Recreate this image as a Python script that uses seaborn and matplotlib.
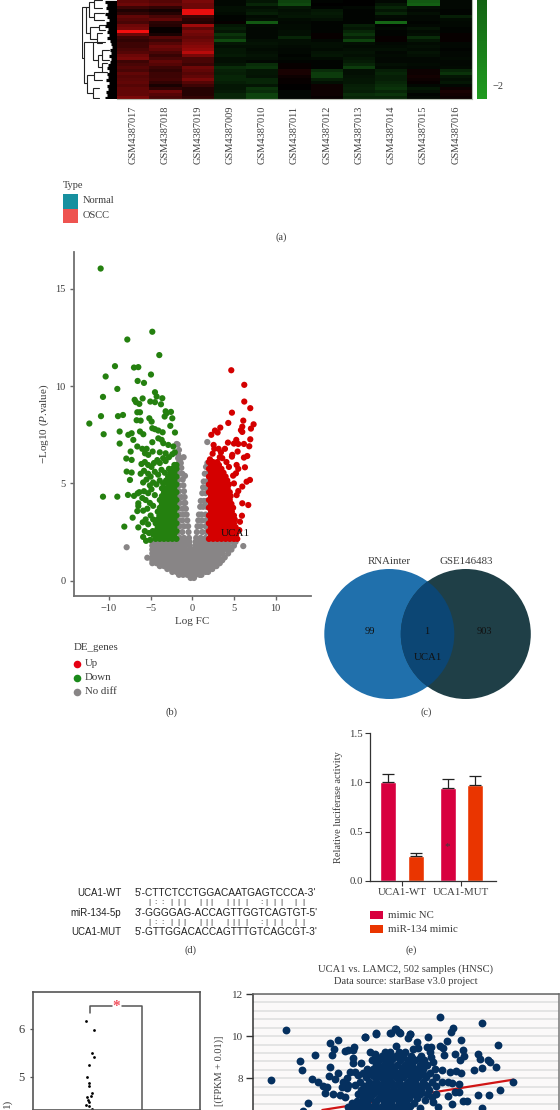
import matplotlib
matplotlib.use("Agg")
import matplotlib.pyplot as plt
from matplotlib.colors import LinearSegmentedColormap
from matplotlib.patches import Circle, Rectangle
from matplotlib.ticker import MultipleLocator
import numpy as np
import pandas as pd
import seaborn as sns

# ---------- (a) heatmap ----------
samples = ["GSM4387017", "GSM4387018", "GSM4387019", "GSM4387009", "GSM4387010", "GSM4387011",
           "GSM4387012", "GSM4387013", "GSM4387014", "GSM4387015", "GSM4387016"]
heat_values = [
    [.8, .7, 1.0, -.1, -.3, -.9, -.05, 0, -.1, -1.2, -.1],
    [.9, .8, .9, -.1, -.5, -1, 0, 0, -.3, -1.3, -.1],
    [.5, .4, .9, -.2, -.2, -.3, -.05, -.1, -.5, -.2, -.1],
    [.25, .15, 1.9, -.2, -.3, -.2, -.3, -.05, -.3, -.1, -.05],
    [.4, .3, 1.9, -.15, -.4, -.25, -.35, -.05, -.5, -.2, -.05],
    [.8, .6, .5, -.05, -.15, -.3, -.3, -.05, -.15, -.1, -.4],
    [.7, .8, .35, -.05, -.2, -.15, -.2, -.05, -.1, -.1, -.15],
    [.6, .35, .3, .05, -1.2, -.1, -.05, -.05, -1.4, -.05, -.1],
    [.9, .3, 1.3, -.3, -.15, -.15, -.05, -.4, -.05, -.1, -.1],
    [1.0, .05, .8, -.4, -.1, -.15, -.05, -.3, -.1, -.25, -.05],
    [2.0, .05, 1.0, -.3, -.1, -.2, -.05, -.5, -.05, -.15, -.05],
    [.9, .2, .9, -.7, -.1, -.2, .05, -.7, -.05, -.2, .05],
    [.5, .7, .8, -.5, -.1, -.5, .05, -.4, .05, -.6, .05],
    [.4, .5, .9, -1, -.2, -.2, -.1, -.9, .05, -.3, .05],
    [.5, .7, 1.0, -.3, -.25, -.2, -.2, -.2, -.1, -.15, -.1],
    [.5, .9, 1.1, -.2, -.2, -.15, -.2, -.15, -.15, -.2, -.1],
    [.6, .8, 1.2, -.3, -.15, -.1, -.15, -.2, -.2, -.15, -.05],
    [.7, .6, 1.5, -.3, -.2, -.1, -.25, -.25, -.1, -.25, -.1],
    [.9, .45, 1.0, -.35, -.25, -.05, -.3, -.2, -.15, -.2, -.1],
    [1.0, .6, .6, -.2, -.2, -.1, -.15, -.3, -.1, -.1, -.15],
    [.5, .8, .6, -.2, -.1, -.05, -.05, -.35, -.1, -.1, -.1],
    [.6, .7, .5, -.3, -.6, .05, -.05, -.5, -.2, -.15, -.1],
    [.7, .5, .9, -.6, -.7, .05, -.05, -.8, -.15, -.1, -.15],
    [.6, .4, .8, -.45, -.3, .2, -.6, -.2, -.4, .1, -.5],
    [.8, .5, .7, -.4, -.3, .2, -.8, -.2, -.5, .1, -.7],
    [.7, .5, .8, -.5, -.25, .1, -.8, -.25, -.4, .15, -.3],
    [.75, .55, 1.0, -.5, -.5, .05, -.4, -.3, -.4, .1, -.2],
    [.8, .4, .7, -.4, -.5, .05, -.2, -.3, -.5, .05, -.3],
    [.7, .2, .5, -.3, -.3, 0, .1, -.4, -.6, -.1, -.1],
    [.8, .4, .3, -.3, -.7, 0, .1, -.45, -.7, -.3, .1],
    [.8, .9, .3, -.35, -.6, -.1, .1, -.4, -.5, -.2, .2],
    [.8, .7, .3, -.5, -.9, -.1, .1, -.6, -.7, -.05, .15],
    [1.0, .6, .4, -.5, -.9, -.1, .05, -.5, -.5, -.1, .1],
]
tree_height = [35, 31.7, 28.3, 23.3, 23.3, 27.3, 18.3, 20.7, 33.3, 24, 19.3, 15, 15, 30, 23.3, 24]
tree_row_a = [2.2, 2.2, .6, 0, 4.4, 9.1, 8.3, 11.1, 13.9, 13.9, 18.3, 16.7, 21.1, 25, 23.9, 29.4]
tree_row_b = [19.4, 11.1, 5.6, 2.8, 6.7, 13.1, 10, 14.4, 27.8, 20, 22.2, 20, 23.9, 31.1, 26.7, 32.8]
tree_child_a = [31.7, 28.3, 23.3, 15, 13.3, 18.3, 11.7, 15, 24, 11.7, 15, 8.3, 10, 23.3, 15, 18.3]
tree_child_b = [33.3, 27.3, 23.3, 15, 13.3, 20.7, 11.7, 15, 30, 19.3, 15, 8.3, 10, 24, 15, 18.3]
leaf_depth = [12, 10, 11, 9, 12, 10, 8, 11, 12, 9, 10, 8, 10, 7, 6, 5, 7, 6, 8, 6, 7, 9, 10,
              8, 10, 9, 11, 8, 10, 9, 11, 10, 12]
type_labels = ["Normal", "OSCC"]
type_colors = ["#17909f", "#ee5350"]

# ---------- (b) volcano ----------
gray_x = [-.2, .2,
          -1.6, -1.1, -.6, -.1, .4, .9, 1.1,
          -2.4, -1.9, -1.4, -.9, -.4, .1, .6, 1.1, 1.6, 1.9,
          -3.0, -2.5, -2.0, -1.5, -1.0, -.5, 0, .5, 1.0, 1.5, 2.0, 2.4,
          -3.9, -3.4, -2.9, -2.4, -1.9, -1.4, -.9, -.4, .1, .6, 1.1, 1.6, 2.1, 2.6, 2.9,
          -4.8, -4.3, -3.8, -3.3, -2.8, -2.3, -1.8, -1.3, -.8, -.3, .2, .7, 1.2, 1.7, 2.2, 2.7, 3.3,
          -4.8, -4.4, -3.9, -3.4, -2.9, -2.4, -1.9, -1.4, -.9, -.4, .1, .6, 1.1, 1.6, 2.1, 2.6, 3.1, 3.6,
          -4.8, -4.3, -3.8, -3.3, -2.8, -2.3, -1.8, -1.3, -.8, -.3, .2, .7, 1.2, 1.7, 2.2, 2.7, 3.2, 3.9,
          -4.8, -4.4, -3.9, -3.4, -2.9, -2.4, -1.9, -1.4, -.9, -.4, .1, .6, 1.1, 1.6, 2.1, 2.6, 3.1, 3.6, 4.3,
          -4.8, -4.3, -3.8, -3.3, -2.8, -2.3, -1.8, -1.3, -.8, -.3, .2, .7, 1.2, 1.7, 2.2, 2.7, 3.2, 3.7, 4.2, 4.7,
          -4.8, -4.4, -3.9, -3.4, -2.9, -2.4, -1.9, -1.4, -.9, -.32, .35, .8, 1.3, 1.8, 2.3, 2.8, 3.3, 3.8, 4.3, 5.0,
          -4.8, -4.3, -3.8, -3.3, -2.8, -2.3, -1.8, -1.3, -.8, -.35, .4, .9, 1.4, 1.9, 2.4, 2.9, 3.4, 3.9, 4.4, 4.9, 5.2,
          # left wing
          -1.5, -1.0, -.4, -1.7, -1.2, -.45, -1.5, -1.0, -.5, -1.7, -1.2, -.6, -1.5, -1.0, -.68,
          -1.7, -1.2, -.77, -1.5, -1.0, -.85, -1.7, -1.3, -.92, -1.6, -1.0, -1.6, -1.07, -1.7, -1.15,
          -1.6, -1.2, -1.7, -1.32, -1.6, -1.38, -1.7, -1.42,
          # right wing
          .47, 1.0, 1.6, .55, 1.2, 1.7, .62, 1.0, 1.6, .72, 1.2, 1.7, .8, 1.1, 1.6, .95, 1.3, 1.7,
          1.02, 1.4, 1.7, 1.2, 1.6, 1.3, 1.7, 1.37, 1.7, 1.5, 1.8, 1.65, 1.85, 1.82,
          # isolated
          6.12, -7.88, -5.4, 1.8, -1.88, -1.76, -1.04, -.88, -1.6, -1.7, -1.5]
gray_y = [.14, .14,
          .3, .3, .3, .3, .3, .3, .3,
          .45, .45, .45, .45, .45, .45, .45, .45, .45, .45,
          .6, .6, .6, .6, .6, .6, .6, .6, .6, .6, .6, .6,
          .75, .75, .75, .75, .75, .75, .75, .75, .75, .75, .75, .75, .75, .75, .75,
          .9, .9, .9, .9, .9, .9, .9, .9, .9, .9, .9, .9, .9, .9, .9, .9, .9,
          1.05, 1.05, 1.05, 1.05, 1.05, 1.05, 1.05, 1.05, 1.05, 1.05, 1.05, 1.05, 1.05, 1.05, 1.05, 1.05, 1.05, 1.05,
          1.2, 1.2, 1.2, 1.2, 1.2, 1.2, 1.2, 1.2, 1.2, 1.2, 1.2, 1.2, 1.2, 1.2, 1.2, 1.2, 1.2, 1.2,
          1.4, 1.4, 1.4, 1.4, 1.4, 1.4, 1.4, 1.4, 1.4, 1.4, 1.4, 1.4, 1.4, 1.4, 1.4, 1.4, 1.4, 1.4, 1.4,
          1.6, 1.6, 1.6, 1.6, 1.6, 1.6, 1.6, 1.6, 1.6, 1.6, 1.6, 1.6, 1.6, 1.6, 1.6, 1.6, 1.6, 1.6, 1.6, 1.6,
          1.8, 1.8, 1.8, 1.8, 1.8, 1.8, 1.8, 1.8, 1.8, 1.8, 1.8, 1.8, 1.8, 1.8, 1.8, 1.8, 1.8, 1.8, 1.8, 1.8,
          2.0, 2.0, 2.0, 2.0, 2.0, 2.0, 2.0, 2.0, 2.0, 2.0, 2.0, 2.0, 2.0, 2.0, 2.0, 2.0, 2.0, 2.0, 2.0, 2.0, 2.0,
          2.2, 2.2, 2.2, 2.5, 2.5, 2.5, 2.8, 2.8, 2.8, 3.1, 3.1, 3.1, 3.4, 3.4, 3.4,
          3.7, 3.7, 3.7, 4.0, 4.0, 4.0, 4.3, 4.3, 4.3, 4.6, 4.6, 4.9, 4.9, 5.2, 5.2,
          5.5, 5.5, 5.8, 5.8, 6.05, 6.05, 6.3, 6.3,
          2.2, 2.2, 2.2, 2.5, 2.5, 2.5, 2.8, 2.8, 2.8, 3.1, 3.1, 3.1, 3.4, 3.4, 3.4, 3.8, 3.8, 3.8,
          4.1, 4.1, 4.1, 4.5, 4.5, 4.8, 4.8, 5.1, 5.1, 5.5, 5.5, 5.85, 5.85, 6.05,
          1.78, 1.72, 1.18, 7.13, 7.03, 7.0, 6.35, 5.39, 6.72, 6.5, 6.2]
green_core_y = [2.15, 2.35, 2.55, 2.75, 2.95, 3.15, 3.35, 3.55, 3.75, 3.95, 4.15, 4.35,
                4.55, 4.75, 4.95, 5.15, 5.35, 5.55, 5.75, 5.95]
green_core_x = [[-1.9, -2.4, -2.9, -3.4, -3.9, -4.4],
                [-2.15, -2.65, -3.15, -3.65, -4.15, -4.65],
                [-1.9, -2.4, -2.9, -3.4, -3.9, -4.4],
                [-2.15, -2.65, -3.15, -3.65, -4.15],
                [-1.9, -2.4, -2.9, -3.4, -3.9, -4.4],
                [-2.15, -2.65, -3.15, -3.65, -4.15],
                [-1.9, -2.4, -2.9, -3.4, -3.95],
                [-2.15, -2.65, -3.15, -3.65, -4.15],
                [-1.9, -2.4, -2.9, -3.4, -3.9],
                [-2.15, -2.65, -3.15, -3.65],
                [-1.9, -2.4, -2.9, -3.4, -3.9],
                [-2.15, -2.65, -3.15, -3.65],
                [-1.9, -2.4, -2.9, -3.4],
                [-2.15, -2.65, -3.15, -3.65],
                [-1.9, -2.4, -2.9],
                [-2.15, -2.65, -3.15],
                [-1.9, -2.4, -2.9],
                [-2.15, -2.65],
                [-1.9, -2.4, -2.8],
                [-2.15, -1.9]]
green_x = [-11, -7.8, -4.8, -3.96, -9.28, -10.4, -7, -6.48, -4.96, -6.56, -5.8, -9, -10.72, -4.48, -4.28,
           -3.6, -5.96, -6.92, -6.76, -6.36, -5.04, -4.48, -3.76, -3.2, -2.56, -6.6, -6.28, -10.96, -8.92,
           -8.32, -12.36, -6.68, -6.2, -5.16, -4.88, -4.8, -4.48, -4.08, -3.56, -2.64, -2.4, -2.08, -3.32,
           -3.08, -8.72, -7.68, -7.28, -10.64, -8.72, -6.28, -5.88, -7.08, -6.6, -6, -5.48, -7.4, -7.92,
           -7.28, -5.68, -5.28, -4.76, -4.8, -4.08, -3.68, -3.48, -2.88, -2.28, -7.88, -7.28, -7.48, -10.72,
           -9, -7.72, -7, -6.56, -6.36, -6.48, -6.48, -6.6, -7.16, -8.16, -6.48,
           -6.1, -5.7, -5.3, -4.9, -4.6, -4.2, -3.9, -3.5, -3.2, -2.8, -2.4, -2.1, -3.2, -3.9,
           -6.2, -5.8, -5.3, -5.0, -4.5, -4.1, -3.7, -3.3,
           -5.9, -5.5, -5.1, -4.7, -4.3, -3.9, -3.5,
           -5.8, -5.3, -4.9, -4.5, -6.0, -5.6, -5.1, -4.7, -5.9, -5.4, -5.0, -4.7, -5.6, -5.95, -5.3, -5.7,
           -5.2, -5.9, -5.55, -5.05, -4.75]
green_y = [16.05, 12.4, 12.8, 11.6, 11.03, 10.5, 10.96, 10.98, 10.6, 10.27, 10.17, 9.86, 9.45, 9.69, 9.47,
           9.38, 9.37, 9.3, 9.18, 9.09, 9.21, 9.18, 9.07, 8.71, 8.68, 8.66, 8.66, 8.46, 8.46,
           8.52, 8.08, 8.25, 8.23, 8.35, 8.18, 7.84, 7.79, 7.72, 7.63, 7.96, 8.35, 7.62, 8.44,
           8.61, 7.67, 7.5, 7.58, 7.53, 7.05, 7.67, 7.53, 7.24, 6.9, 6.78, 6.78, 6.64, 6.28,
           6.21, 6.55, 6.47, 6.64, 7.12, 7.32, 7.24, 7.07, 6.98, 6.9, 5.61, 5.56, 5.18, 4.32,
           4.32, 4.41, 4.36, 4.49, 4.55, 3.98, 3.84, 3.58, 3.24, 2.78, 2.74,
           6.0, 6.1, 5.95, 5.85, 6.05, 6.2, 6.05, 6.3, 6.15, 6.35, 6.5, 6.6, 6.55, 6.6,
           5.5, 5.65, 5.5, 5.35, 5.6, 5.45, 5.7, 5.55,
           5.05, 5.2, 4.9, 5.05, 4.95, 5.15, 5.0,
           4.6, 4.5, 4.7, 4.4, 4.25, 4.15, 4.0, 3.85, 3.6, 3.7, 3.35, 3.15, 3.15, 3.0, 2.9, 2.55,
           2.45, 2.25, 2.05, 2.1, 2.55]
red_core_y = [2.15, 2.35, 2.55, 2.75, 2.95, 3.15, 3.35, 3.55, 3.75, 3.95, 4.15, 4.35, 4.55, 4.75,
              4.95, 5.15, 5.35, 5.55, 5.75, 5.95, 6.1]
red_core_x = [[2.0, 2.5, 3.0, 3.5, 4.0, 4.5, 5.0, 5.4],
              [2.25, 2.75, 3.25, 3.75, 4.25, 4.75, 5.25],
              [2.0, 2.5, 3.0, 3.5, 4.0, 4.5, 5.0, 5.4],
              [2.25, 2.75, 3.25, 3.75, 4.25, 4.75, 5.2],
              [2.0, 2.5, 3.0, 3.5, 4.0, 4.5, 5.0],
              [2.25, 2.75, 3.25, 3.75, 4.25, 4.75, 5.1],
              [2.0, 2.5, 3.0, 3.5, 4.0, 4.5, 5.0],
              [2.25, 2.75, 3.25, 3.75, 4.25, 4.75],
              [2.0, 2.5, 3.0, 3.5, 4.0, 4.5, 4.9],
              [2.25, 2.75, 3.25, 3.75, 4.25, 4.7],
              [2.0, 2.5, 3.0, 3.5, 4.0, 4.5],
              [2.25, 2.75, 3.25, 3.75, 4.25, 4.6],
              [2.0, 2.5, 3.0, 3.5, 4.0, 4.5],
              [2.25, 2.75, 3.25, 3.75, 4.25],
              [2.0, 2.5, 3.0, 3.5, 4.0, 4.4],
              [2.25, 2.75, 3.25, 3.75, 4.2],
              [2.0, 2.5, 3.0, 3.5, 4.0],
              [2.25, 2.75, 3.25, 3.75],
              [2.0, 2.5, 3.0, 3.5],
              [2.25, 2.75, 3.2],
              [2.0, 2.5, 3.0]]
red_x = [4.68, 6.24, 6.24, 6.96, 4.76, 6.12, 4.32, 7.36, 3.36, 7.04, 6, 5.84, 6, 2.72, 3.04, 2.28, 6.96, 5.28,
         4.28, 5, 5.52, 6.2, 6.84, 2.56, 2.64, 3.16, 3.92, 3.44, 5.44, 4.8, 2.44, 2.12, 6.6, 6.2, 4.76, 6.32,
         5.32, 5.52, 5.24, 6.92, 6.52, 6.72, 6, 5.52, 5.32, 6, 5.96, 5.72, 5.64, 3.6, 4.1, 4.4, 3.3, 4.9, 5.0]
red_y = [10.82, 10.07, 9.21, 8.87, 8.64, 8.23, 8.11, 8.04, 7.87, 7.82, 7.92, 7.74, 7.65, 7.72, 7.62, 7.5, 7.27, 7.24,
         7.1, 7.05, 7.03, 7.03, 6.91, 6.98, 6.78, 6.78, 6.78, 6.6, 6.64, 6.47, 6.53, 6.24, 6.41, 6.33, 6.38, 5.83,
         5.95, 5.75, 5.52, 5.18, 5.09, 3.89, 4.84, 4.61, 4.4, 3.98, 3.34, 3.03, 2.6, 6.3, 6.1, 5.85, 6.35, 5.4, 5.0]

# ---------- (c) Venn ----------
venn_names = ["RNAinter", "GSE146483"]
venn_counts = ["99", "1", "903"]

# ---------- (d) sequences ----------
seq_names = ["UCA1-WT", "miR-134-5p", "UCA1-MUT"]
seq_texts = ["5'-CTTCTCCTGGACAATGAGTCCCA-3'", "3'-GGGGAG-ACCAGTTGGTCAGTGT-5'", "5'-GTTGGACACCAGTTTGTCAGCGT-3'"]
match_marks = "|::||||||||||:|||||"

# ---------- (e) bars ----------
constructs = ["UCA1-WT", "UCA1-WT", "UCA1-MUT", "UCA1-MUT"]
treatments = ["mimic NC", "miR-134 mimic", "mimic NC", "miR-134 mimic"]
activity = [1.0, .25, .94, .97]
activity_err = [.085, .03, .10, .10]
bar_colors = {"mimic NC": "#d8003f", "miR-134 mimic": "#ea3500"}

# ---------- (f) strip ----------
strip_x = [-.084, .072, .039, .065, -.032, -.071, -.032, -.019, .039, .013, -.071, -.039, -.026, -.09, -.019, .039]
strip_y = [6.167, 5.965, 5.493, 5.403, 5.243, 5.007, 4.875, 4.8, 4.66, 4.604, 4.576, 4.52, 4.472, 4.417, 4.403, 4.34]

# ---------- (g) correlation ----------
corr_x = [1.08, .59, 1.56, 1.63, 2.04, 1.96, 2.17, 2.31, 2.47, 2.39, 1.83, 1.67,
          2.57, 2.82, 2.70, 2.61, 3.06, 3.17, 3.37, 3.33, 2.57, 2.82, 2.53, 2.72, 3.73, 4.09, 4.07, 3.33, 3.33,
          3.59, 3.22, 3.39, 3.48, 3.11, 3.0, 3.06, 3.17, 2.94, 3.11, 3.39, 2.67, 2.89, 3.06,
          6.22, 7.63, 8.14, 6.67, 6.59, 5.83, 6.46, 6.93, 4.58, 4.74, 4.88, 5.22, 5.17, 5.44, 4.74, 5.33, 5.5,
          5.78, 5.92, 5.89, 6.22, 6.33, 6.36, 6.72, 7.0, 7.03, 6.89, 5.91, 6.0, 7.48, 7.56, 7.81, 7.89, 8.09,
          7.63, 7.36, 6.28, 6.56, 6.74, 6.91, 8.67, 8.22, 7.84, 7.5, 7.11, 7.0, 6.86, 6.72, 6.86, 6.61, 6.5,
          6.28, 6.5, 6.61, 7.63, 6.17, 5.94, 6.0, 5.72, 5.22, 5.56,
          4.72, 4.86, 4.57, 4.08, 3.72, 5.22]
corr_y = [10.29, 7.94, 8.82, 8.40, 9.11, 7.96, 7.81, 7.64, 7.61, 7.29, 6.82, 6.45,
          9.69, 9.80, 9.38, 9.11, 9.30, 9.35, 9.49, 9.33, 8.52, 8.26, 8.13, 7.96, 9.98, 10.12, 9.14, 8.95, 8.71,
          8.75, 8.32, 8.32, 8.16, 8.0, 7.85, 7.77, 7.69, 7.61, 7.53, 7.69, 7.26, 7.21, 7.13,
          10.93, 10.64, 9.58, 10.37, 10.21, 9.98, 9.77, 9.82, 10.14, 10.33, 10.17, 10.09, 9.90, 9.74, 9.54, 9.38, 9.43,
          9.50, 9.47, 9.27, 9.54, 9.46, 9.11, 9.16, 9.35, 9.08, 8.87, 9.03, 8.79, 9.14, 8.92, 8.87, 8.76, 8.56,
          8.48, 8.40, 8.40, 8.29, 8.35, 8.24, 7.85, 7.43, 7.21, 7.21, 6.93, 6.93, 7.34, 7.37, 7.72, 7.80, 7.85,
          7.81, 7.18, 6.79, 6.58, 6.66, 7.13, 6.9, 6.98, 6.71, 6.58,
          10.33, 10.21, 10.14, 10.14, 9.97, 10.09]
corr_core_y = [9.25, 9.05, 8.85, 8.65, 8.45, 8.25, 8.05, 7.85, 7.65, 7.45, 7.25, 7.05, 6.85, 6.65,
               8.95, 8.55, 8.15, 7.75, 7.35, 6.95, 6.6]
corr_core_x = [[3.9, 4.4, 4.55, 4.85, 5.05],
               [4.05, 4.3, 4.5, 4.75, 5.0, 5.25, 5.6],
               [3.95, 4.2, 4.45, 4.6, 4.9, 5.15, 5.4, 5.7],
               [4.1, 4.35, 4.55, 4.8, 5.05, 5.3, 5.55, 5.8],
               [3.8, 4.0, 4.25, 4.5, 4.7, 4.95, 5.2, 5.45, 5.65, 6.05],
               [3.65, 3.9, 4.15, 4.4, 4.6, 4.85, 5.1, 5.35, 5.6, 5.9],
               [3.75, 4.05, 4.25, 4.5, 4.75, 5.0, 5.3, 5.5, 5.75, 6.1],
               [3.55, 3.85, 4.1, 4.35, 4.6, 4.85, 5.15, 5.4, 5.65, 5.95],
               [3.7, 4.0, 4.25, 4.45, 4.7, 4.95, 5.25, 5.5, 5.8, 6.1],
               [3.6, 3.85, 4.15, 4.4, 4.65, 4.9, 5.1, 5.35, 5.6, 5.85],
               [3.5, 3.75, 4.0, 4.3, 4.55, 4.8, 5.05, 5.3, 5.55, 5.8, 6.1],
               [3.65, 3.9, 4.2, 4.45, 4.7, 4.95, 5.2, 5.45],
               [3.3, 3.55, 3.8, 4.05, 4.35, 4.6, 4.85, 5.1, 5.35],
               [3.15, 3.45, 3.7, 3.95, 4.25, 4.5, 4.75, 5.0],
               [4.3, 4.65, 4.95, 5.3, 5.55],
               [4.2, 4.45, 4.7, 5.0, 5.25, 5.6],
               [3.95, 4.2, 4.4, 4.65, 4.9, 5.2, 5.45, 5.7],
               [3.85, 4.15, 4.35, 4.55, 4.8, 5.1, 5.35, 5.7],
               [3.7, 3.95, 4.2, 4.5, 4.75, 5.0, 5.25, 5.45],
               [3.45, 3.8, 4.1, 4.35, 4.6, 4.85, 5.1],
               [3.3, 3.6, 3.85, 4.15, 4.4, 4.65, 4.9, 5.15]]
fit_x = [2.3, 8.67]
fit_y = [6.5, 7.94]

# ---------- drawing ----------
sns.set_theme(style="ticks")
SERIF = "Liberation Serif"
plt.rcParams["font.family"] = [SERIF, "DejaVu Sans"]
plt.rcParams["mathtext.fontset"] = "custom"
plt.rcParams["mathtext.rm"] = SERIF
plt.rcParams["mathtext.it"] = SERIF + ":italic"
plt.rcParams["axes.unicode_minus"] = True

W, H = 560, 1110
TXT = "#3c3c3c"
fig = plt.figure(figsize=(W / 100, H / 100), dpi=100, facecolor="white")


def ax_px(left, top, right, bottom, **kw):
    return fig.add_axes([left / W, 1 - bottom / H, (right - left) / W, (bottom - top) / H], **kw)


# heatmap
heat_cmap = LinearSegmentedColormap.from_list("gbr", ["#1f9a1f", "#000000", "#ff1010"])
ax_heat = ax_px(117, 0, 472, 99)
ax_cbar = ax_px(477, 0, 487, 99)
sns.heatmap(pd.DataFrame(heat_values, columns=samples), ax=ax_heat, cbar_ax=ax_cbar, cmap=heat_cmap,
            vmin=-2.1, vmax=2.1, xticklabels=samples, yticklabels=False)
ax_heat.tick_params(axis="x", length=0, pad=5, labelsize=7.5, labelcolor=TXT, labelrotation=90)
ax_heat.set_xlabel("")
for side in ("right", "bottom"):
    ax_heat.spines[side].set_visible(True)
    ax_heat.spines[side].set_color("#b5bcb0")
    ax_heat.spines[side].set_linewidth(0.8)
ax_cbar.set_ylim(-2.1, -1.34)
ax_cbar.set_yticks([-2])
ax_cbar.set_yticklabels(["\u22122"], fontsize=7.5, color=TXT)
ax_cbar.tick_params(axis="y", length=0, pad=4, right=True, left=False)
for coll in ax_cbar.collections:
    coll.set_edgecolor("none")
for sp in ax_cbar.spines.values():
    sp.set_visible(False)

# dendrogram
ax_tree = ax_px(82, 0, 117, 99)
ax_tree.set_xlim(35.5, 0)
ax_tree.set_ylim(33, 0)
ax_tree.axis("off")
for h, ra, rb, ca, cb in zip(tree_height, tree_row_a, tree_row_b, tree_child_a, tree_child_b):
    ax_tree.plot([ca, h, h, cb], [ra, ra, rb, rb], color="#222222", lw=0.8, solid_joinstyle="miter")
ax_tree.hlines(np.arange(len(leaf_depth)) + 0.5, leaf_depth, 0, color="black", lw=2.3)

# volcano
core_g = [(x, y) for y, xs in zip(green_core_y, green_core_x) for x in xs]
core_r = [(x, y) for y, xs in zip(red_core_y, red_core_x) for x in xs]
volcano = pd.DataFrame({
    "fc": gray_x + green_x + [p[0] for p in core_g] + red_x + [p[0] for p in core_r],
    "p": gray_y + green_y + [p[1] for p in core_g] + red_y + [p[1] for p in core_r],
    "group": ["No diff"] * len(gray_x) + ["Down"] * (len(green_x) + len(core_g)) + ["Up"] * (len(red_x) + len(core_r)),
})
ax_vol = ax_px(74, 252, 311, 596)
sns.scatterplot(data=volcano, x="fc", y="p", hue="group",
                palette={"No diff": "#888586", "Down": "#24800f", "Up": "#d40000"},
                s=20, linewidth=0, legend=False, ax=ax_vol)
ax_vol.set_xlim(-14.2, 14.25)
ax_vol.set_ylim(-0.787, 16.9)
ax_vol.set_xticks([-10, -5, 0, 5, 10])
ax_vol.set_yticks([0, 5, 10, 15])
ax_vol.set_xlabel("Log FC", fontsize=8, color=TXT, labelpad=3)
ax_vol.set_ylabel("\u2212Log10 ($\\mathit{P}$.value)", fontsize=8, color=TXT, labelpad=3)
ax_vol.tick_params(labelsize=7.5, labelcolor=TXT, length=3, width=1, color="#666666", pad=3)
sns.despine(ax=ax_vol)
for side in ("left", "bottom"):
    ax_vol.spines[side].set_color("#707070")
    ax_vol.spines[side].set_linewidth(1.3)
ax_vol.text(5.13, 2.44, "UCA1", fontsize=8, color="#111111", ha="center", va="center")

# bars
ax_bar = ax_px(370.3, 733.3, 496, 880.7)
bars_df = pd.DataFrame({"construct": constructs, "treatment": treatments, "activity": activity})
sns.barplot(data=bars_df, x="construct", y="activity", hue="treatment", palette=bar_colors,
            width=0.92, gap=0.41, errorbar=None, legend=False, ax=ax_bar, saturation=1)
bar_x, bar_h = [], []
for container in ax_bar.containers:
    for rect in container:
        bar_x.append(rect.get_x() + rect.get_width() / 2)
        bar_h.append(rect.get_height())
order = {(round(h, 3)): e for h, e in zip(activity, activity_err)}
ax_bar.errorbar(bar_x, bar_h, yerr=[[0] * len(bar_h), [order[round(h, 3)] for h in bar_h]],
                fmt="none", ecolor="#222222", elinewidth=0.9, capsize=4.6, capthick=0.9)
ax_bar.set_xlim(-0.534, 1.585)
ax_bar.set_ylim(0, 1.5)
ax_bar.set_yticks([0, .5, 1, 1.5])
ax_bar.set_yticklabels(["0.0", "0.5", "1.0", "1.5"])
ax_bar.set_xlabel("")
ax_bar.set_ylabel("Relative luciferase activity", fontsize=7.5, color=TXT, labelpad=4)
ax_bar.tick_params(labelsize=7.8, labelcolor=TXT, length=3.5, width=0.8, color="#333333", pad=2)
sns.despine(ax=ax_bar)
for side in ("left", "bottom"):
    ax_bar.spines[side].set_color("#333333")
    ax_bar.spines[side].set_linewidth(0.9)
ax_bar.text(bar_x[1], 0.345, "*", ha="center", va="center", fontsize=8, color=TXT)

# strip panel
ax_strip = ax_px(32.7, 992.3, 200, 1110)
sns.scatterplot(x=strip_x, y=strip_y, color="black", s=4, linewidth=0, ax=ax_strip, legend=False)
ax_strip.set_xlim(-1.12, 2.13)
ax_strip.set_ylim(4.31, 6.76)
ax_strip.set_xticks([])
ax_strip.set_yticks([5, 6])
ax_strip.tick_params(axis="y", labelsize=9, labelcolor=TXT, length=2.4, width=0.9, color="#555555", pad=3.5)
ax_strip.set_xlabel("")
ax_strip.set_ylabel("")
for sp in ax_strip.spines.values():
    sp.set_color("#555555")
    sp.set_linewidth(1.2)
ax_strip.plot([0, 0, 0.43], [6.327, 6.485, 6.485], color="#555555", lw=1.1)
ax_strip.plot([0.62, 1, 1], [6.485, 6.485, 4.2], color="#555555", lw=1.1)
ax_strip.text(0.5, 6.47, "*", color="#f2505e", fontsize=11, ha="center", va="center", fontweight="bold")

# correlation panel
core_c = [(x, y) for y, xs in zip(corr_core_y, corr_core_x) for x in xs]
ax_corr = ax_px(253.3, 994, 559, 1110)
ax_corr.set_facecolor("#fbf9f9")
ax_corr.yaxis.set_minor_locator(MultipleLocator(0.4))
ax_corr.grid(True, axis="y", which="both", color="#dedede", lw=1.1)
ax_corr.set_axisbelow(True)
sns.lineplot(x=fit_x, y=fit_y, color="#d01515", lw=1.6, ax=ax_corr, zorder=2, errorbar=None)
sns.scatterplot(x=corr_x + [p[0] for p in core_c], y=corr_y + [p[1] for p in core_c],
                color="#05305f", s=32, linewidth=0, ax=ax_corr, legend=False, zorder=3)
ax_corr.set_xlim(0, 10.19)
ax_corr.set_ylim(6.5, 12)
ax_corr.set_xticks([])
ax_corr.set_yticks([8, 10, 12])
ax_corr.tick_params(axis="y", which="major", labelsize=8, labelcolor=TXT, length=5, width=1, color="#333333", pad=2)
ax_corr.tick_params(axis="y", which="minor", length=0)
ax_corr.set_xlabel("")
ax_corr.set_ylabel("")
ax_corr.spines["left"].set_color("#333333")
ax_corr.spines["top"].set_color("#666666")
ax_corr.spines["right"].set_color("#777777")
ax_corr.spines["bottom"].set_visible(False)
for sp in ("left", "top", "right"):
    ax_corr.spines[sp].set_linewidth(1.1)

# overlay in pixel coordinates for free text, legends and the Venn diagram
ov = fig.add_axes([0, 0, 1, 1], zorder=20)
ov.set_xlim(0, W)
ov.set_ylim(H, 0)
ov.axis("off")
ov.patch.set_alpha(0)


def label(x, y, s, size=7.5, color=TXT, ha="center", family=None, **kw):
    ov.text(x, y, s, fontsize=size, color=color, ha=ha, va="center", family=family or [SERIF], **kw)


# (a) legend
label(63, 186, "Type", ha="left")
for i, (name, col) in enumerate(zip(type_labels, type_colors)):
    ov.add_patch(Rectangle((63, 194 + i * 14.7), 14.5, 14.7, facecolor=col, edgecolor="none"))
    label(83, 200.5 + i * 14.7, name, ha="left")
label(281, 237, "(a)")

# (b) legend
label(74, 647, "DE_genes", size=7.8, ha="left")
for i, (name, col) in enumerate(zip(["Up", "Down", "No diff"], ["#e60012", "#1a8a1a", "#888586"])):
    ov.scatter([77], [664 + i * 14], s=30, color=col, linewidth=0)
    label(85, 664 + i * 14, name, size=7.8, ha="left")
label(172, 712.5, "(b)")

# (c) Venn
left_c = Circle((389.3, 634), 65, facecolor="#2070ac", edgecolor="none")
right_c = Circle((465.8, 634), 65, facecolor="#1f3f47", edgecolor="none")
ov.add_patch(left_c)
ov.add_patch(right_c)
both = Circle((465.8, 634), 65, facecolor="#0c4674", edgecolor="none")
ov.add_patch(both)
both.set_clip_path(Circle((389.3, 634), 65, transform=ov.transData))
label(389, 561, venn_names[0], size=7.8)
label(466, 561, venn_names[1], size=7.8)
label(370, 632, venn_counts[0], color="#111111")
label(427, 632, venn_counts[1], color="#111111")
label(484, 632, venn_counts[2], color="#111111")
label(428, 657, "UCA1", size=7.8, color="#111111")
label(425.7, 712.5, "(c)")

# (d) sequences
SANS = ["Liberation Sans"]
for y, name, seq in zip([893, 913, 932], seq_names, seq_texts):
    label(121, y, name, size=7, color="#222222", ha="right", family=SANS)
    label(135, y, seq, size=7.25, color="#222222", ha="left", family=SANS)
mark_x = [149, 155, 162.7, 171.7, 178.3, 184, 200, 206, 211, 227.7, 233.3, 238.3, 246.7, 261.7, 266.7, 274, 281.7, 295, 303.3]
for y in (903, 922.5):
    for x, m in zip(mark_x, match_marks):
        label(x, y, m, size=6, color="#222222", family=SANS)
label(190.7, 950, "(d)")

# (e) legend
for i, (name, col) in enumerate(bar_colors.items()):
    ov.add_patch(Rectangle((370, 911 + i * 14), 13, 8, facecolor=col, edgecolor="none"))
    label(388, 915 + i * 14, name, size=7.8, ha="left")
label(411, 950, "(e)")

# (f), (g) labels as far as the picture shows them, and title
ov.text(7, 1103, "1)", rotation=90, fontsize=8, color=TXT, ha="center", va="center", family=[SERIF])
ov.text(219, 1036, "[(FPKM + 0.01)]", rotation=90, fontsize=7.5, color=TXT, ha="center", va="top", family=[SERIF])
label(406, 969, "UCA1 vs. LAMC2, 502 samples (HNSC)", size=7.6)
label(406, 982, "Data source: starBase v3.0 project", size=7.6)

fig.savefig("out.png", dpi=100, facecolor="white")
